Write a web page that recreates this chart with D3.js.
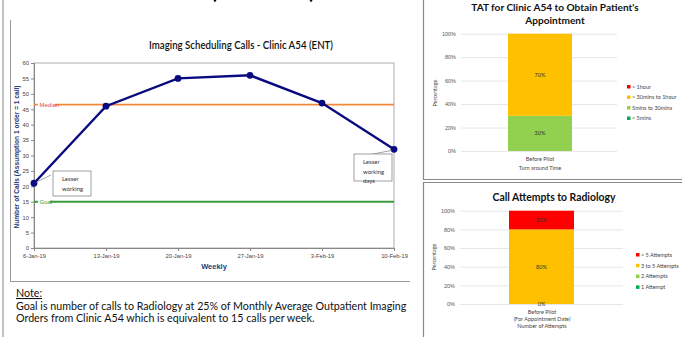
<!DOCTYPE html>
<html>
<head>
<meta charset="utf-8">
<script src="https://cdn.jsdelivr.net/npm/d3@7"></script>
<style>
  body { margin: 0; background: #fff; }
  svg { display: block; font-family: Lato, "Open Sans", sans-serif; }
</style>
</head>
<body>
<script>
// line chart data
var weeks = ["6-Jan-19", "13-Jan-19", "20-Jan-19", "27-Jan-19", "3-Feb-19", "10-Feb-19"];
var calls = [21, 46, 55, 56, 47, 32];
var medianValue = 46.5;
var goalValue = 15;
var yTicks = [0, 5, 10, 15, 20, 25, 30, 35, 40, 45, 50, 55, 60];

// TAT stacked bar
var tatKeys = ["< 5mins", "5mins to 30mins", "> 30mins to 1hour", "> 1hour"];
var tatValues = [0, 30, 70, 0];
var tatCategory = ["Before Pilot"];

// call attempts stacked bar
var attKeys = ["1 Attempt", "2 Attempts", "3 to 5 Attempts", "> 5 Attempts"];
var attValues = [0, 0, 80, 20];
var attCategory = ["Before Pilot", "(For Appointment Date)"];

var pctTicks = [0, 20, 40, 60, 80, 100];
var segColors = ["#00b050", "#92d050", "#ffc000", "#ff0000"];

var W = 682, H = 337;
var svg = d3.select("body").append("svg")
    .attr("width", W)
    .attr("height", H);

// slide frames
svg.append("line").attr("x1", 3).attr("x2", 3).attr("y1", 0).attr("y2", H)
    .attr("stroke", "#999").attr("stroke-width", 1.2);
svg.append("path").attr("d", "M10.5,20V281.5H410")
    .attr("fill", "none").attr("stroke", "#999").attr("stroke-width", 1);
svg.append("path").attr("d", "M423.5,0V179.5H682")
    .attr("fill", "none").attr("stroke", "#888").attr("stroke-width", 1.2);
svg.append("path").attr("d", "M423.5,337V182.5H682")
    .attr("fill", "none").attr("stroke", "#888").attr("stroke-width", 1.2);

// slide title, mostly above the visible area
svg.append("text").attr("x", 211).attr("y", -2)
    .attr("font-size", 26).attr("font-weight", 700)
    .attr("textLength", 104).attr("lengthAdjust", "spacingAndGlyphs")
    .text("(Clinic A54)");

// ---- line chart ----
var x = d3.scalePoint().domain(weeks).range([34, 394]);
var y = d3.scaleLinear().domain([0, 60]).range([248, 63]);

var lc = svg.append("g");

lc.append("rect").attr("x", 34).attr("y", 63).attr("width", 360).attr("height", 185)
    .attr("fill", "none").attr("stroke", "#999").attr("stroke-width", 0.8);

lc.append("text").attr("x", 241).attr("y", 49)
    .attr("text-anchor", "middle").attr("font-size", 10.5).attr("font-weight", 600)
    .attr("fill", "#111")
    .attr("textLength", 184).attr("lengthAdjust", "spacingAndGlyphs")
    .text("Imaging Scheduling Calls - Clinic A54 (ENT)");

var yAxis = d3.axisLeft(y).tickValues(yTicks).tickSize(3).tickPadding(2);
var gy = lc.append("g").attr("transform", "translate(34,0)").call(yAxis);
var xAxis = d3.axisBottom(x).tickSize(3).tickPadding(3);
var gx = lc.append("g").attr("transform", "translate(0,248)").call(xAxis);
[gy, gx].forEach(function (g) {
    g.select(".domain").attr("stroke", "#888");
    g.selectAll(".tick line").attr("stroke", "#888");
    g.selectAll(".tick text").attr("font-size", 5.8).attr("fill", "#444")
        .attr("font-family", "'Liberation Sans Narrow', 'Liberation Sans', sans-serif");
});

lc.append("text").attr("transform", "translate(18.5,157) rotate(-90)")
    .attr("text-anchor", "middle").attr("font-size", 6.6).attr("font-weight", 700)
    .attr("fill", "#1f3a78").attr("font-family", "'Liberation Sans', sans-serif")
    .text("Number of Calls (Assumption 1 order = 1 call)");

lc.append("text").attr("x", 214).attr("y", 269)
    .attr("text-anchor", "middle").attr("font-size", 7.5).attr("font-weight", 700)
    .attr("fill", "#1f3a78").attr("font-family", "'Liberation Sans Narrow', 'Liberation Sans', sans-serif")
    .text("Weekly");

// median + goal reference lines
function refLine(val, color, labelColor, label, labelW) {
    lc.append("line").attr("x1", 34).attr("x2", 394)
        .attr("y1", y(val)).attr("y2", y(val))
        .attr("stroke", color).attr("stroke-width", 1.8);
    lc.append("rect").attr("x", 38).attr("y", y(val) - 3.5).attr("width", labelW).attr("height", 7)
        .attr("fill", "#fff");
    lc.append("text").attr("x", 39.5).attr("y", y(val) + 2.2)
        .attr("font-size", 6).attr("fill", labelColor)
        .attr("font-family", "'Liberation Sans Narrow', 'Liberation Sans', sans-serif")
        .text(label);
}
refLine(medianValue, "#f08a3a", "#e04a3a", "Median", 17);
refLine(goalValue, "#3a9a3a", "#3a9a3a", "Goal", 12);

var line = d3.line()
    .x(function (d, i) { return x(weeks[i]); })
    .y(function (d) { return y(d); });

lc.append("path").datum(calls).attr("d", line)
    .attr("fill", "none").attr("stroke", "#0a0a80").attr("stroke-width", 2.4);
lc.selectAll(".pt").data(calls).enter().append("circle")
    .attr("cx", function (d, i) { return x(weeks[i]); })
    .attr("cy", function (d) { return y(d); })
    .attr("r", 3.4).attr("fill", "#0a0a80");

// annotation callouts
function callout(px, py, bx, by, bw, bh, lines, lx, ly) {
    lc.append("line").attr("x1", px).attr("y1", py).attr("x2", lx).attr("y2", ly)
        .attr("stroke", "#777").attr("stroke-width", 0.7);
    lc.append("rect").attr("x", bx).attr("y", by).attr("width", bw).attr("height", bh)
        .attr("fill", "#fff").attr("stroke", "#888").attr("stroke-width", 0.8);
    lines.forEach(function (t, i) {
        lc.append("text").attr("x", bx + 9).attr("y", by + 10 + i * 9.5)
            .attr("font-size", 6).attr("fill", "#333").text(t);
    });
}
callout(x(weeks[0]) + 2, y(calls[0]) - 1, 53, 171, 38, 25, ["Lesser", "working"], 51, 175);
callout(x(weeks[5]) - 2, y(calls[5]) + 1, 354, 154, 38, 27, ["Lesser", "working", "days"], 373, 154);

// note
var note = svg.append("g").attr("font-size", 10.7).attr("fill", "#111");
note.append("text").attr("x", 16).attr("y", 297).attr("text-decoration", "underline").text("Note:");
note.append("text").attr("x", 16).attr("y", 309.5)
    .text("Goal is number of calls to Radiology at 25% of Monthly Average Outpatient Imaging");
note.append("text").attr("x", 16).attr("y", 322)
    .text("Orders from Clinic A54 which is equivalent to 15 calls per week.");

// ---- stacked bar panels ----
function stackedPanel(opt) {
    var g = svg.append("g");
    var yb = d3.scaleLinear().domain([0, 100]).range([opt.y0, opt.y1]);

    opt.title.forEach(function (t, i) {
        g.append("text").attr("x", opt.tx).attr("y", opt.ty + i * 12.5)
            .attr("text-anchor", "middle").attr("font-size", opt.tsize).attr("font-weight", 700)
            .attr("fill", "#111").text(t);
    });

    var ax = d3.axisLeft(yb).tickValues(pctTicks).tickSize(-(opt.gx1 - opt.gx0))
        .tickPadding(5).tickFormat(function (d) { return d + "%"; });
    var ga = g.append("g").attr("transform", "translate(" + opt.gx0 + ",0)").call(ax);
    ga.select(".domain").remove();
    ga.selectAll(".tick line").attr("stroke", "#ddd").attr("stroke-width", 0.7);
    ga.selectAll(".tick text").attr("font-size", 5.5).attr("fill", "#555");

    g.append("text").attr("transform", "translate(" + opt.ylx + "," + opt.yly + ") rotate(-90)")
        .attr("text-anchor", "middle").attr("font-size", 5.5).attr("fill", "#444")
        .text("Percentage");

    var row = {};
    opt.keys.forEach(function (k, i) { row[k] = opt.values[i]; });
    var series = d3.stack().keys(opt.keys)([row]);
    var bx = opt.bx0, bw = opt.bx1 - opt.bx0;

    series.forEach(function (s, i) {
        var d = s[0];
        g.append("rect").attr("x", bx).attr("width", bw)
            .attr("y", yb(d[1])).attr("height", yb(d[0]) - yb(d[1]))
            .attr("fill", segColors[i]);
    });
    series.forEach(function (s, i) {
        var d = s[0], v = d[1] - d[0];
        if (v > 0 || opt.zeroLabel === i) {
            g.append("text").attr("x", bx + bw / 2).attr("y", yb((d[0] + d[1]) / 2) + 2)
                .attr("text-anchor", "middle").attr("font-size", 5.5).attr("fill", "#333")
                .text(v + "%");
        }
    });

    opt.xlabels.forEach(function (t, i) {
        g.append("text").attr("x", opt.xlx).attr("y", opt.xly + i * opt.xlStep)
            .attr("text-anchor", "middle").attr("font-size", 5.5).attr("fill", "#444").text(t);
    });

    // legend, top item is last key
    var legKeys = opt.keys.slice().reverse();
    legKeys.forEach(function (k, i) {
        var ci = opt.keys.length - 1 - i;
        var ly = opt.legY + i * opt.legStep;
        g.append("rect").attr("x", opt.legX).attr("y", ly - 2).attr("width", 3.5).attr("height", 3.5)
            .attr("fill", segColors[ci]);
        g.append("text").attr("x", opt.legX + 5).attr("y", ly + 1.8)
            .attr("font-size", 5.5).attr("fill", "#444").text(k);
    });
}

stackedPanel({
    title: ["TAT for Clinic A54 to Obtain Patient's", "Appointment"],
    tx: 555, ty: 11, tsize: 10.1,
    y0: 151, y1: 33.7, gx0: 461, gx1: 617, bx0: 508, bx1: 572,
    keys: tatKeys, values: tatValues, zeroLabel: -1,
    ylx: 437, yly: 93,
    xlabels: [tatCategory[0], "Turn around Time"], xlx: 540, xly: 161, xlStep: 8.5,
    legX: 627, legY: 87, legStep: 10.5
});

stackedPanel({
    title: ["Call Attempts to Radiology"],
    tx: 554, ty: 201, tsize: 10.4,
    y0: 304, y1: 210.7, gx0: 460, gx1: 623, bx0: 509, bx1: 574,
    keys: attKeys, values: attValues, zeroLabel: 1,
    ylx: 436, yly: 257,
    xlabels: [attCategory[0], attCategory[1], "Number of Attempts"], xlx: 542, xly: 313.5, xlStep: 7,
    legX: 636, legY: 255, legStep: 10.8
});
</script>
</body>
</html>
